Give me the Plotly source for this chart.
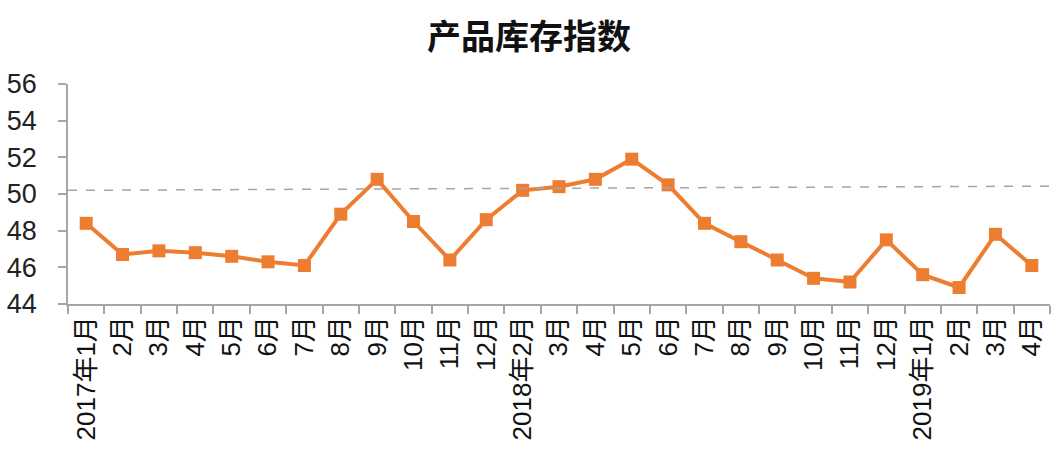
import plotly.graph_objects as go

categories = ["2017年1月", "2月", "3月", "4月", "5月", "6月", "7月", "8月", "9月", "10月", "11月", "12月",
              "2018年2月", "3月", "4月", "5月", "6月", "7月", "8月", "9月", "10月", "11月", "12月",
              "2019年1月", "2月", "3月", "4月"]
# unique keys for the category axis (labels repeat)
keys = [f"c{i}" for i in range(len(categories))]
values = [48.4, 46.7, 46.9, 46.8, 46.6, 46.3, 46.1, 48.9, 50.8, 48.5, 46.4, 48.6,
          50.2, 50.4, 50.8, 51.9, 50.5, 48.4, 47.4, 46.4, 45.4, 45.2, 47.5,
          45.6, 44.9, 47.8, 46.1]
ref_line_start = 50.2
ref_line_end = 50.43
y_ticks = [44, 46, 48, 50, 52, 54, 56]

orange = "#ED7D31"

fig = go.Figure()
fig.add_trace(go.Scatter(
    x=keys, y=values, mode="lines+markers",
    line=dict(color=orange, width=4),
    marker=dict(symbol="square", size=13, color=orange),
    showlegend=False, hoverinfo="y",
))

fig.add_shape(type="line", xref="paper", yref="y", x0=0, x1=1,
              y0=ref_line_start, y1=ref_line_end,
              line=dict(color="#A6A6A6", width=1.5, dash="dash"))

fig.update_layout(
    width=1058, height=454,
    margin=dict(l=68, r=8, t=84, b=150, autoexpand=False),
    paper_bgcolor="white", plot_bgcolor="white",
    title=dict(text="<b>产品库存指数</b>", x=0.5, xanchor="center", y=1 - 37 / 454, yanchor="middle",
               font=dict(family="Noto Sans CJK SC", size=34, color="#111111")),
    font=dict(family="Noto Sans CJK SC, Liberation Sans", color="#222222"),
)
fig.update_xaxes(
    type="category", tickmode="array", tickvals=keys, ticktext=categories,
    tickangle=-90, tickson="boundaries", ticks="outside", ticklen=8, tickwidth=1.5,
    tickcolor="#A6A6A6", showline=True, linecolor="#A6A6A6", linewidth=1.5,
    showgrid=False, range=[-0.5, len(keys) - 0.5], automargin=False,
    tickfont=dict(family="Liberation Sans, Noto Sans CJK SC", size=26, color="#111111"),
)
fig.update_yaxes(
    range=[44, 56], tickvals=y_ticks, ticks="outside", ticklen=8, tickwidth=1.5,
    tickcolor="#A6A6A6", showline=True, linecolor="#A6A6A6", linewidth=1.5,
    showgrid=False, zeroline=False, automargin=False, ticklabelstandoff=16,
    tickfont=dict(family="Liberation Sans, Noto Sans", size=27, color="#222222"),
)

fig.write_html("out.html", config={"displayModeBar": False},
               post_script="document.body.style.margin='0';document.body.style.overflow='hidden';")
